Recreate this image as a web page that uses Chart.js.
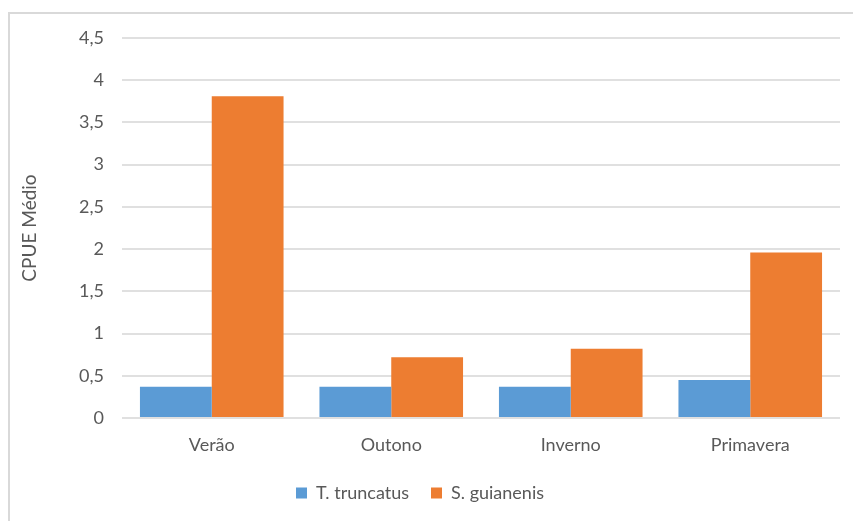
<html>

<head>
  <meta charset="utf-8">
  <style>
    html,
    body {
      margin: 0;
      padding: 0;
      width: 853px;
      height: 521px;
      overflow: hidden;
      background: #fff;
    }

    #frame {
      position: absolute;
      left: 8px;
      top: 12px;
      width: 900px;
      height: 600px;
      border-top: 2px solid #d9d9d9;
      border-left: 2px solid #d9d9d9;
    }

    #wrap {
      position: absolute;
      left: 0;
      top: 0;
      width: 853px;
      height: 521px;
    }
  </style>
</head>

<body>
  <div id="frame"></div>
  <div id="wrap"><canvas id="myChart"></canvas></div>
  <script src="https://cdn.jsdelivr.net/npm/chart.js@4.4.1/dist/chart.umd.min.js"></script>
  <script type="text/javascript">
    const seasons = ['Verão', 'Outono', 'Inverno', 'Primavera'];
    const truncatus = [0.37, 0.37, 0.37, 0.45];
    const guianenis = [3.81, 0.72, 0.82, 1.96];

    const grey = '#595959';
    const font = { family: 'Lato', size: 18 };

    const ctx = document.getElementById('myChart');
    new Chart(ctx, {
      type: 'bar',
      data: {
        labels: seasons,
        datasets: [
          { label: 'T. truncatus', data: truncatus, backgroundColor: '#5b9bd5' },
          { label: 'S. guianenis', data: guianenis, backgroundColor: '#ed7d31' },
        ],
      },
      options: {
        responsive: true,
        maintainAspectRatio: false,
        animation: false,
        datasets: {
          bar: { categoryPercentage: 0.8, barPercentage: 1.0 },
        },
        layout: {
          padding: { left: 0, right: 13, top: 38, bottom: 9 },
        },
        plugins: {
          tooltip: { enabled: false },
          legend: {
            position: 'bottom',
            labels: {
              color: grey,
              font: font,
              boxWidth: 11,
              boxHeight: 11,
              padding: 22,
            },
          },
        },
        scales: {
          x: {
            grid: { display: false },
            border: { display: false },
            ticks: { color: grey, font: font, padding: 8 },
            afterFit: (s) => { s.height = 44; },
          },
          y: {
            min: 0,
            max: 4.5,
            ticks: {
              stepSize: 0.5,
              color: grey,
              font: font,
              padding: 18,
              callback: (v) => v.toString().replace('.', ','),
            },
            grid: { color: '#e0e0e0', lineWidth: 2, drawTicks: false },
            border: { display: false },
            title: {
              display: true,
              text: 'CPUE Médio',
              color: grey,
              font: { family: 'Lato', size: 19 },
              padding: { top: 18, bottom: 0 },
            },
            afterFit: (s) => { s.width = 122; },
          },
        },
      },
    });
  </script>
</body>

</html>
